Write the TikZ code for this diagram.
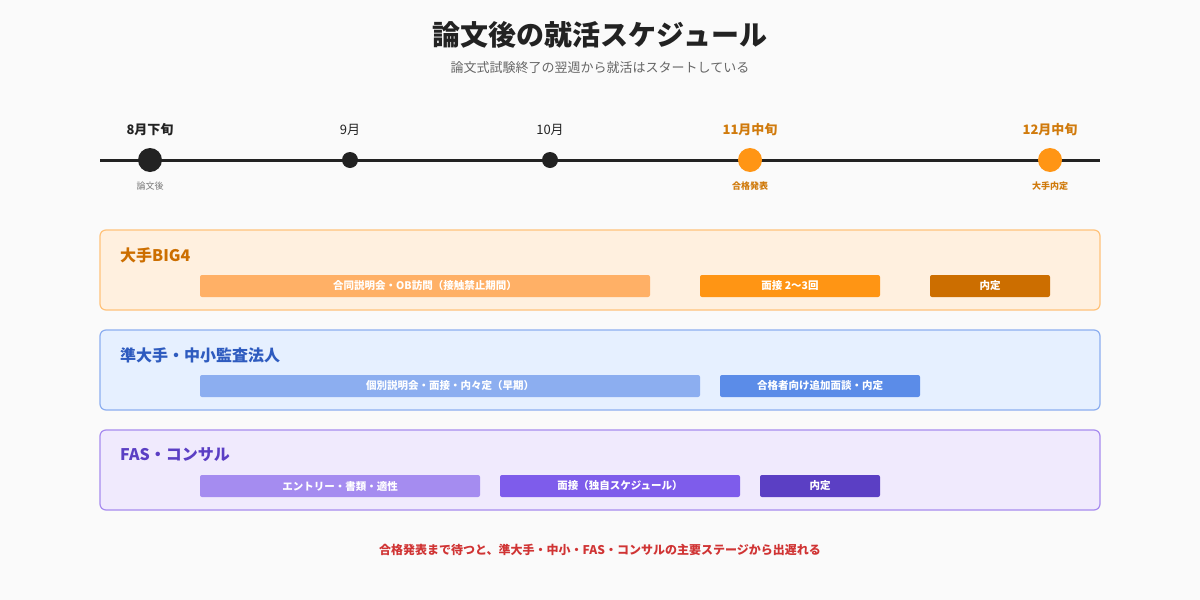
\documentclass[tikz,border=0pt]{standalone}
\usepackage{fontspec}
\setmainfont{Noto Sans CJK JP}
\usetikzlibrary{positioning}

\definecolor{paper}{HTML}{FAFAFA}
\definecolor{ink}{HTML}{222222}
\definecolor{subgray}{HTML}{666666}
\definecolor{smallgray}{HTML}{777777}
\definecolor{orangetxt}{HTML}{D07A0C}
\definecolor{orangedot}{HTML}{FF9514}
\definecolor{bigbg}{HTML}{FFF0DF}
\definecolor{bigline}{HTML}{FFC27A}
\definecolor{bigtxt}{HTML}{CC6E00}
\definecolor{bigA}{HTML}{FFB066}
\definecolor{bigB}{HTML}{FF9514}
\definecolor{bigC}{HTML}{CC6E00}
\definecolor{midbg}{HTML}{E6F0FF}
\definecolor{midline}{HTML}{8CAEF0}
\definecolor{midtxt}{HTML}{2E5BBF}
\definecolor{midA}{HTML}{8CAEF0}
\definecolor{midB}{HTML}{5B8CE8}
\definecolor{fasbg}{HTML}{F0EAFD}
\definecolor{fasline}{HTML}{A78BEF}
\definecolor{fastxt}{HTML}{5B3FC4}
\definecolor{fasA}{HTML}{A58CF0}
\definecolor{fasB}{HTML}{7E5CEB}
\definecolor{fasC}{HTML}{5B3FC4}
\definecolor{warn}{HTML}{D03434}

\begin{document}
\begin{tikzpicture}[x=1pt, y=-1pt,
    every node/.style={font=\fontsize{13}{15}\selectfont, inner sep=0pt},
    monthlbl/.style={text=ink},
    keylbl/.style={text=orangetxt, font=\fontsize{13}{15}\selectfont\bfseries},
    sublbl/.style={font=\fontsize{9}{11}\selectfont},
    bigdot/.style={circle, minimum size=24pt},
    smalldot/.style={circle, fill=ink, minimum size=16pt},
    groupbox/.style={rounded corners=6pt, line width=1.2pt, minimum width=1000pt, minimum height=80pt},
    grouptitle/.style={anchor=west, font=\fontsize{16}{19}\selectfont\bfseries},
    phasebar/.style={rounded corners=2pt, minimum height=22pt, text=white,
        font=\fontsize{10.5}{12}\selectfont\bfseries}]

    \fill[paper] (0,0) rectangle (1200,600);
    \useasboundingbox (0,0) rectangle (1200,600);

    % heading
    \node[text=ink, font=\fontsize{28}{32}\selectfont\bfseries] (title) at (600,35) {論文後の就活スケジュール};
    \node[text=subgray] (subtitle) at (600,68) {論文式試験終了の翌週から就活はスタートしている};

    % timeline
    \coordinate (tlstart) at (100,160);
    \coordinate (tlend) at (1100,160);
    \draw[line width=3pt, ink] (tlstart) -- (tlend);

    \node[bigdot, fill=ink] (aug) at (150,160) {};
    \node[smalldot] (sep) at (350,160) {};
    \node[smalldot] (oct) at (550,160) {};
    \node[bigdot, fill=orangedot] (nov) at (750,160) {};
    \node[bigdot, fill=orangedot] (dec) at (1050,160) {};

    \node[monthlbl, font=\fontsize{13}{15}\selectfont\bfseries] (auglbl) at (150,130) {8月下旬};
    \node[monthlbl] (seplbl) at (350,130) {9月};
    \node[monthlbl] (octlbl) at (550,130) {10月};
    \node[keylbl] (novlbl) at (750,130) {11月中旬};
    \node[keylbl] (declbl) at (1050,130) {12月中旬};

    \node[sublbl, text=smallgray] (augsub) at (150,186) {論文後};
    \node[sublbl, text=orangetxt, font=\fontsize{9}{11}\selectfont\bfseries] (novsub) at (750,186) {合格発表};
    \node[sublbl, text=orangetxt, font=\fontsize{9}{11}\selectfont\bfseries] (decsub) at (1050,186) {大手内定};

    % big four
    \node[groupbox, fill=bigbg, draw=bigline] (big) at (600,270) {};
    \node[grouptitle, text=bigtxt] (bigttl) at (120,255) {大手BIG4};
    \node[phasebar, fill=bigA, minimum width=450pt] (bigexpo) at (425,286) {合同説明会・OB訪問（接触禁止期間）};
    \node[phasebar, fill=bigB, minimum width=180pt] (bigint) at (790,286) {面接 2〜3回};
    \node[phasebar, fill=bigC, minimum width=120pt] (bigoffer) at (990,286) {内定};

    % mid-tier
    \node[groupbox, fill=midbg, draw=midline] (mid) at (600,370) {};
    \node[grouptitle, text=midtxt] (midttl) at (120,355) {準大手・中小監査法人};
    \node[phasebar, fill=midA, minimum width=500pt] (midearly) at (450,386) {個別説明会・面接・内々定（早期）};
    \node[phasebar, fill=midB, minimum width=200pt] (midextra) at (820,386) {合格者向け追加面談・内定};

    % advisory
    \node[groupbox, fill=fasbg, draw=fasline] (fas) at (600,470) {};
    \node[grouptitle, text=fastxt] (fasttl) at (120,455) {FAS・コンサル};
    \node[phasebar, fill=fasA, minimum width=280pt] (fasentry) at (340,486) {エントリー・書類・適性};
    \node[phasebar, fill=fasB, minimum width=240pt] (fasint) at (620,486) {面接（独自スケジュール）};
    \node[phasebar, fill=fasC, minimum width=120pt] (fasoffer) at (820,486) {内定};

    % note
    \node[text=warn, font=\fontsize{12}{14}\selectfont\bfseries] (note) at (600,550) {合格発表まで待つと、準大手・中小・FAS・コンサルの主要ステージから出遅れる};
\end{tikzpicture}
\end{document}
